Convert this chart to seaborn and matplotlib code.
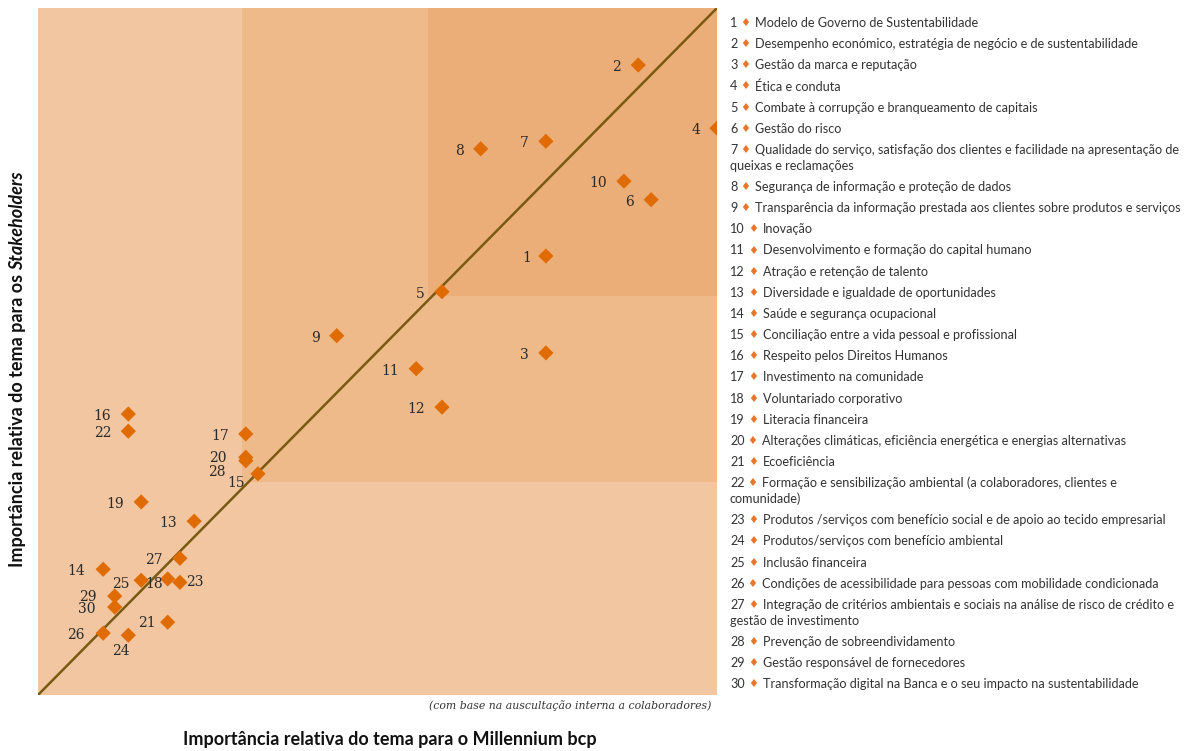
import matplotlib
matplotlib.use("Agg")
import matplotlib.pyplot as plt
from matplotlib.patches import Rectangle
import seaborn as sns
import pandas as pd

# Materiality matrix values (0-100 scale)
topic_ids = list(range(1, 31))
millennium = [74.8, 88.4, 74.8, 100.0, 59.5, 90.3, 74.8, 65.2, 44.0, 86.3,
              55.7, 59.5, 23.0, 9.6, 32.4, 13.3, 30.6, 19.1, 15.2, 30.6,
              19.1, 13.3, 20.9, 13.3, 15.2, 9.6, 20.9, 30.6, 11.3, 11.3]
stakeholders = [63.9, 91.7, 49.8, 82.5, 58.7, 72.1, 80.6, 79.5, 52.3, 74.8,
                47.5, 41.9, 25.3, 18.3, 32.2, 40.9, 38.0, 16.9, 28.1, 34.6,
                10.6, 38.4, 16.4, 8.7, 16.7, 9.0, 19.9, 34.1, 14.4, 12.8]
topics = [
    "Modelo de Governo de Sustentabilidade",
    "Desempenho económico, estratégia de negócio e de sustentabilidade",
    "Gestão da marca e reputação",
    "Ética e conduta",
    "Combate à corrupção e branqueamento de capitais",
    "Gestão do risco",
    "Qualidade do serviço, satisfação dos clientes e facilidade na apresentação de\nqueixas e reclamações",
    "Segurança de informação e proteção de dados",
    "Transparência da informação prestada aos clientes sobre produtos e serviços",
    "Inovação",
    "Desenvolvimento e formação do capital humano",
    "Atração e retenção de talento",
    "Diversidade e igualdade de oportunidades",
    "Saúde e segurança ocupacional",
    "Conciliação entre a vida pessoal e profissional",
    "Respeito pelos Direitos Humanos",
    "Investimento na comunidade",
    "Voluntariado corporativo",
    "Literacia financeira",
    "Alterações climáticas, eficiência energética e energias alternativas",
    "Ecoeficiência",
    "Formação e sensibilização ambiental (a colaboradores, clientes e\ncomunidade)",
    "Produtos /serviços com benefício social e de apoio ao tecido empresarial",
    "Produtos/serviços com benefício ambiental",
    "Inclusão financeira",
    "Condições de acessibilidade para pessoas com mobilidade condicionada",
    "Integração de critérios ambientais e sociais na análise de risco de crédito e\ngestão de investimento",
    "Prevenção de sobreendividamento",
    "Gestão responsável de fornecedores",
    "Transformação digital na Banca e o seu impacto na sustentabilidade",
]

df = pd.DataFrame({"id": topic_ids, "bcp": millennium, "stk": stakeholders})

# colours
c_outer = "#F1C6A0"
c_mid = "#EEBA8A"
c_inner = "#ECAE78"
c_mark = "#E06B00"
c_line = "#7A5A12"
c_text = "#333333"

sns.set_theme(style="white")
plt.rcParams["font.family"] = ["Lato", "DejaVu Sans"]

W, H = 1187, 751
fig = plt.figure(figsize=(W / 100, H / 100), dpi=100)
ax = fig.add_axes([38 / W, (H - 695) / H, 679 / W, 687 / H])

# background zones
ax.add_patch(Rectangle((0, 0), 100, 100, color=c_outer, lw=0, zorder=0))
ax.add_patch(Rectangle((30.0, 31.0), 70, 69, color=c_mid, lw=0, zorder=0))
ax.add_patch(Rectangle((57.4, 58.1), 42.6, 41.9, color=c_inner, lw=0, zorder=0))

ax.plot([0, 100], [0, 100], color=c_line, lw=1.8, zorder=1)

sns.scatterplot(data=df, x="bcp", y="stk", marker="D", s=60, color=c_mark,
                edgecolor="none", ax=ax, zorder=3, legend=False)

# label placement (pixel offsets from the point)
offsets = {1: (-15, -2), 14: (-18, -2), 15: (-13, -9), 18: (-5, -5),
           20: (-19, -1), 21: (-12, -1), 24: (-7, -16), 25: (-12, -4),
           26: (-19, -2), 28: (-20, -11), 29: (-18, -1), 30: (-19, -2)}
for i, x, y in zip(topic_ids, millennium, stakeholders):
    dx, dy = offsets.get(i, (-17, -2))
    ha = "right"
    if i == 23:
        dx, dy, ha = 6, 0, "left"
    elif i == 24:
        ha = "center"
    ax.annotate(str(i), (x, y), xytext=(dx, dy), textcoords="offset pixels",
                ha=ha, va="center", fontsize=10, family="DejaVu Serif",
                color="#2a2a2a", zorder=4, annotation_clip=False)

ax.set_xlim(0, 100)
ax.set_ylim(0, 100)
ax.set_xticks([])
ax.set_yticks([])
ax.set_xlabel("")
ax.set_ylabel("")
for s in ax.spines.values():
    s.set_visible(False)

# axis titles
fig.text(390 / W, 1 - 740 / H, "Importância relativa do tema para o Millennium bcp",
         ha="center", va="center", fontsize=13, fontweight="bold", color="#111111")
ylab = fig.text(9 / W, 1 - 567 / H, "Importância relativa do tema para os ",
                rotation=90, ha="left", va="bottom", fontsize=13,
                fontweight="bold", color="#111111")
ax.annotate("Stakeholders", xy=(0, 1), xycoords=ylab, ha="left", va="bottom",
            rotation=90, fontsize=13, fontweight="bold", style="italic",
            color="#111111", annotation_clip=False)
fig.text(711 / W, 1 - 706 / H, "(com base na auscultação interna a colaboradores)",
         ha="right", va="center", fontsize=7.8, family="DejaVu Serif",
         style="italic", color=c_text)

# legend list on the right
y_px = 23
for i, label in zip(topic_ids, topics):
    lines = label.split("\n")
    num = fig.text(730 / W, 1 - y_px / H, str(i), ha="left", va="center",
                   fontsize=9.1, color=c_text)
    ax.annotate("\u2666", xy=(1, 0.5), xycoords=num, xytext=(8, 0),
                textcoords="offset pixels", ha="center", va="center",
                fontsize=8, family="DejaVu Sans", color="#E8762C",
                annotation_clip=False)
    ax.annotate(lines[0], xy=(1, 0.5), xycoords=num, xytext=(18, 0),
                textcoords="offset pixels", ha="left", va="center",
                fontsize=9.1, color=c_text, annotation_clip=False)
    for extra in lines[1:]:
        y_px += 16
        fig.text(730 / W, 1 - y_px / H, extra, ha="left", va="center",
                 fontsize=9.1, color=c_text)
    y_px += 21.15

fig.savefig("out.png", dpi=100)
